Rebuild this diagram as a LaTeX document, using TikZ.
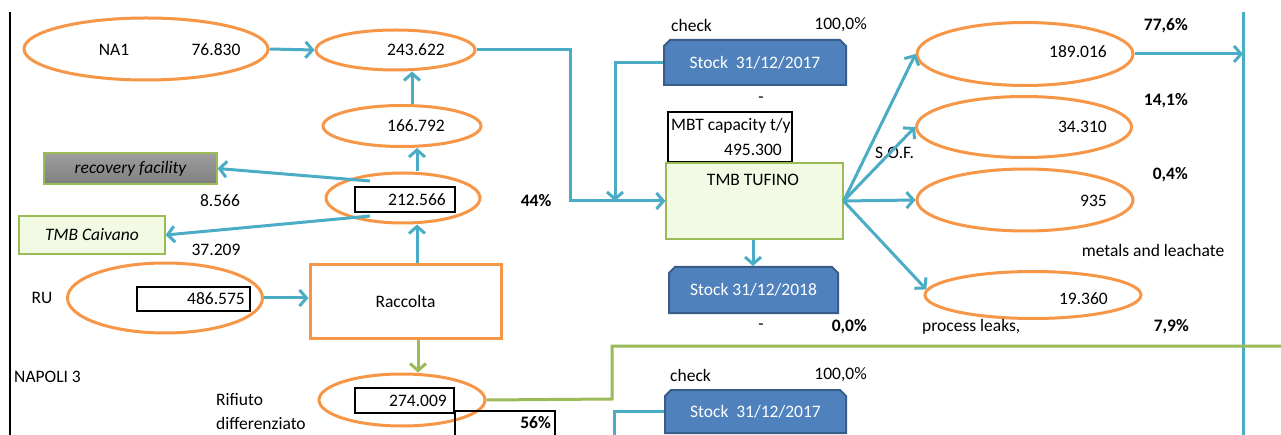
\documentclass[tikz,border=0pt]{standalone}
\usepackage{fontspec}
\setmainfont{Carlito}
\usetikzlibrary{arrows.meta,shapes.geometric,shapes.misc,calc}
\definecolor{orng}{HTML}{F79646}
\definecolor{lblue}{HTML}{4BACC6}
\definecolor{grn}{HTML}{9BBB59}
\definecolor{sblue}{HTML}{4F81BD}
\definecolor{sbord}{HTML}{385D8A}
\definecolor{lgreen}{HTML}{F2FAE4}
\begin{document}
\begin{tikzpicture}[x=1pt,y=-1pt,
 txt/.style={inner sep=0pt,font=\fontsize{17.5}{21}\selectfont},
 btxt/.style={inner sep=0pt,font=\fontsize{17.5}{21}\selectfont\bfseries},
 ell/.style={ellipse,draw=orng,line width=3pt,inner sep=0pt},
 numbox/.style={draw=black,line width=1.5pt,fill=white,inner sep=0pt},
 barrow/.style={draw=lblue,line width=3pt,-{Straight Barb[length=7pt,width=16pt]}},
 bline/.style={draw=lblue,line width=3pt},
 garrow/.style={draw=grn,line width=3pt,-{Straight Barb[length=7pt,width=16pt]}},
 gline/.style={draw=grn,line width=3pt},
 stockbox/.style={chamfered rectangle,chamfered rectangle corners={north west,north east},chamfered rectangle xsep=3pt,chamfered rectangle ysep=3pt,fill=sblue,draw=sbord,line width=2pt,text=white,inner sep=0pt,font=\fontsize{17.5}{21}\selectfont},
 gbox/.style={draw=grn,line width=1.2pt,inner sep=0pt,font=\fontsize{17.5}{21}\selectfont\itshape},
]
\useasboundingbox[fill=white] (0,0) rectangle (1281,435);

% helper coordinates
\coordinate (lt) at (10,12);
\coordinate (lb) at (10,435);
\coordinate (vtop) at (1243,12);
\coordinate (vbot) at (1243,435);
\coordinate (ax) at (417,0);
\coordinate (bx) at (412,0);
\coordinate (gx) at (418,0);
\coordinate (dx) at (753,0);
\coordinate (c570) at (570,50);
\coordinate (c615) at (615,0);
\coordinate (r1) at (370,181);
\coordinate (r2) at (370,216);
\coordinate (g1) at (612,399);
\coordinate (gend) at (1281,346);
\coordinate (bb) at (614,436);

\draw[line width=1.5pt] (lt) -- (lb);
\draw[bline] (vtop) -- (vbot);

% left column
\node[ell,minimum width=244pt,minimum height=62pt] (na1) at (146,49) {};
\node[txt] (tna1) at (114,50) {NA1};
\node[txt] (v76) at (216,50) {76.830};
\node[ell,minimum width=159pt,minimum height=40pt] (e243) at (395.5,50) {};
\node[txt,anchor=east] (t243) at (445,50) {243.622};
\node[ell,minimum width=158pt,minimum height=41pt] (e166) at (402,126) {};
\node[txt,anchor=east] (t166) at (445,126) {166.792};
\node[ell,minimum width=154pt,minimum height=50pt] (e212) at (403,198) {};
\node[numbox,minimum width=100pt,minimum height=25pt] (b212) at (405,199.5) {};
\node[txt,anchor=east] (t212) at (446,200) {212.566};

\node[gbox,top color=black!38,bottom color=black!50,minimum width=173pt,minimum height=31pt] (rec) at (130.5,168.5) {recovery facility};
\node[txt] (v8) at (220,201) {8.566};
\node[gbox,fill=lgreen,minimum width=146pt,minimum height=38pt] (caiv) at (92,235) {TMB Caivano};
\node[txt] (v37) at (216,250) {37.209};
\node[btxt] (p44) at (536,201) {44\%};

\node[draw=orng,line width=3pt,minimum width=191pt,minimum height=73pt,inner sep=0pt,txt] (racc) at (405.5,301.5) {Raccolta};
\node[txt] (tru) at (42,298) {RU};
\node[ell,minimum width=195pt,minimum height=70pt] (eru) at (165,298) {};
\node[numbox,minimum width=113pt,minimum height=24pt] (bru) at (193.5,299) {};
\node[txt,anchor=east] (t486) at (245,299) {486.575};
\node[txt,anchor=west] (nap) at (14,377) {NAPOLI 3};

\node[ell,minimum width=166pt,minimum height=52pt] (e274) at (402,400) {};
\node[numbox,minimum width=99pt,minimum height=25pt] (b274) at (404.5,400.5) {};
\node[txt,anchor=east] (t274) at (447,401) {274.009};
\node[txt,anchor=west] (rif1) at (216,400) {Rifiuto};
\node[txt,anchor=west] (rif2) at (216,423) {differenziato};
\draw[line width=1.5pt] (455,440) -- (455,411) -- (555,411) -- (555,440);
\node[btxt,anchor=east] (p56) at (551,423) {56\%};

% middle column
\node[txt,anchor=west] (chk1) at (671,25) {check};
\node[txt,anchor=east] (pc1) at (867,25) {100,0\%};
\node[stockbox,minimum width=182pt,minimum height=45pt] (st1) at (755,62.5) {Stock\ \ 31/12/2017};
\node[txt] (dash1) at (761,100) {-};
\node[draw,line width=1.5pt,minimum width=124pt,minimum height=50pt,inner sep=0pt] (mbt) at (730,137) {};
\node[txt,anchor=west] (mbt1) at (671,126) {MBT capacity t/y};
\node[txt,anchor=east] (mbt2) at (782,150) {495.300};
\node[draw=grn,line width=1.2pt,fill=lgreen,minimum width=177pt,minimum height=76pt,inner sep=0pt] (tmb) at (754.5,201) {};
\node[txt] (tmbt) at (753,180) {TMB TUFINO};
\node[stockbox,minimum width=169pt,minimum height=46pt] (st2) at (753.5,290) {Stock 31/12/2018};
\node[txt] (dash2) at (761,327) {-};
\node[btxt,anchor=east] (p00) at (867,327) {0,0\%};
\node[txt,anchor=west] (chk2) at (670,375) {check};
\node[txt,anchor=east] (pc2) at (867,375) {100,0\%};
\node[stockbox,minimum width=181pt,minimum height=43pt] (st3) at (755.5,411.5) {Stock\ \ 31/12/2017};

% right column
\node[ell,minimum width=216pt,minimum height=63pt] (e189) at (1025,54) {};
\node[txt,anchor=east] (t189) at (1107,52) {189.016};
\node[ell,minimum width=215pt,minimum height=61pt] (e343) at (1024,127) {};
\node[txt,anchor=east] (t343) at (1107,127) {34.310};
\node[ell,minimum width=216pt,minimum height=62pt] (e935) at (1025,200) {};
\node[txt,anchor=east] (t935) at (1107,201) {935};
\node[ell,minimum width=216pt,minimum height=47pt] (e19) at (1033,295) {};
\node[txt,anchor=east] (t19) at (1108,299) {19.360};
\node[btxt,anchor=east] (p776) at (1188,26) {77,6\%};
\node[btxt,anchor=east] (p141) at (1188,101) {14,1\%};
\node[btxt,anchor=east] (p04) at (1188,175) {0,4\%};
\node[btxt,anchor=east] (p79) at (1189,327) {7,9\%};
\node[txt,anchor=west] (sof) at (875,153) {S.O.F.};
\node[txt] (met) at (1153,250) {metals and leachate};
\node[txt,anchor=west] (leak) at (922,327) {process leaks,};

% connectors
\draw[barrow] (na1.east) -- (e243.west);
\draw[barrow] (e166.north -| bx) -- (e243.south -| bx);
\draw[barrow] (e212.north -| ax) -- (e166.south -| ax);
\draw[barrow] (racc.north -| ax) -- (e212.south -| ax);
\draw[barrow] (r1) -- (rec.east);
\draw[barrow] (r2) -- (caiv.east);
\draw[barrow] (eru.east) -- (racc.west |- eru.east);
\draw[garrow] (racc.south -| gx) -- (e274.north -| gx);
\draw[gline] (e274.east) -- (g1) |- (gend);
\draw[barrow] (e243.east) -- (c570) |- (tmb.west);
\draw[barrow] (st1.west) -| (c615 |- tmb.west);
\draw[barrow] (tmb.south -| dx) -- (st2.north -| dx);
\draw[bline] (st3.west) -| (bb);
\draw[barrow] (tmb.east) -- (e189.west);
\draw[barrow] (tmb.east) -- (e343.west);
\draw[barrow] (tmb.east) -- (e935.west);
\draw[barrow] (tmb.east) -- (e19.177);
\draw[barrow] (e189.east) -- (e189.east -| vtop);
\end{tikzpicture}
\end{document}
